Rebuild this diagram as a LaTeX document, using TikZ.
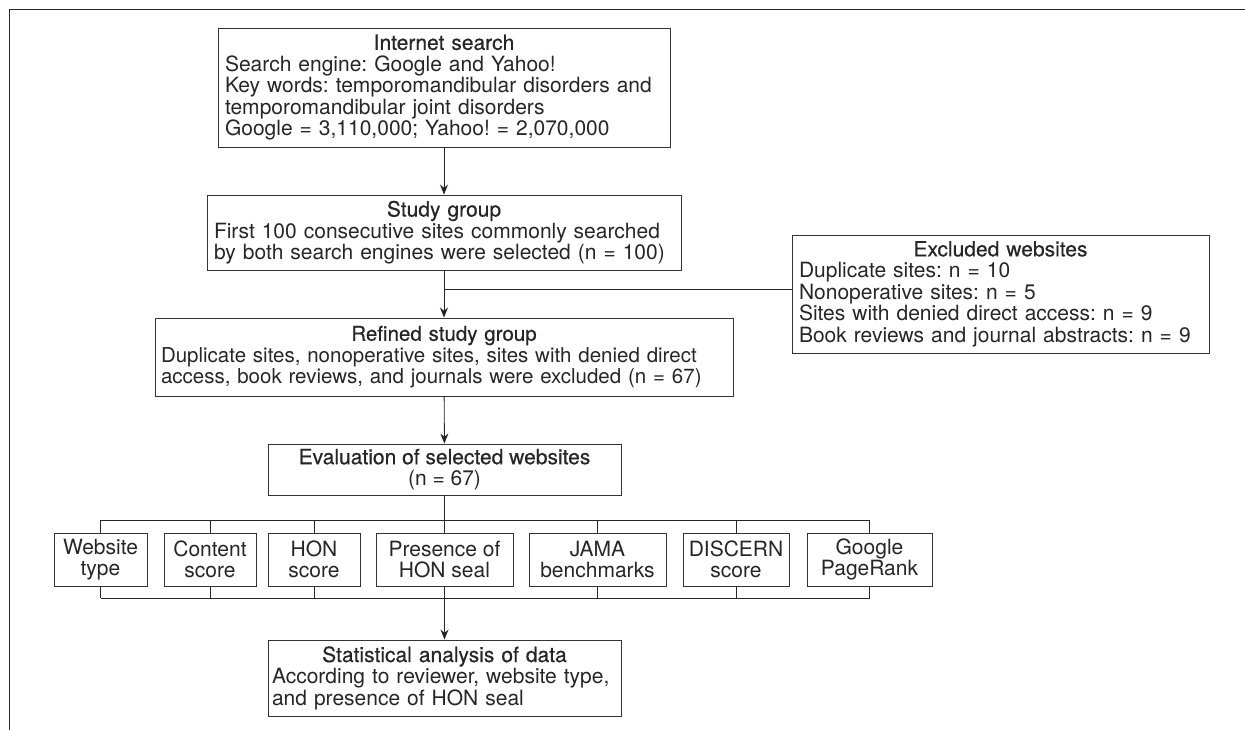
\documentclass[tikz,border=0pt]{standalone}
\usepackage{fontspec}
\setmainfont{TeX Gyre Heros}
\newfontfamily\titlefont[FakeBold=0.5]{TeX Gyre Heros}
\usetikzlibrary{arrows.meta}

\newcommand{\boxtitle}[1]{\makebox[\hsize]{\titlefont #1}\\}

\begin{document}
\begin{tikzpicture}[x=1pt,y=-1pt,
  box/.style={draw=black!80,line width=0.9pt,inner ysep=0pt,inner xsep=7pt,
    font=\fontsize{21}{21.5}\selectfont\frenchspacing,text=black!85,
    execute at begin node=\setlength{\parindent}{0pt}},
  textbox/.style={box,align=left,text width=#1},
  smallbox/.style={box,align=center,inner xsep=0pt,minimum height=53pt},
  conn/.style={draw=black!85,line width=0.9pt},
  arr/.style={conn,-{Stealth[length=10pt,width=8pt]}}]

\useasboundingbox (0,0) rectangle (1245,730);

% frame
\draw[black!85,line width=1pt] (1245,10) -- (9,10) -- (9,730);

\node[textbox=438pt,minimum height=119pt] (search) at (444,87.5)
  {\boxtitle{Internet search}Search engine: Google and Yahoo!\\
   Key words: temporomandibular disorders and\\
   temporomandibular joint disorders\\
   Google = 3,110,000; Yahoo! = 2,070,000};

\node[textbox=460pt,minimum height=75pt] (study) at (444,232.5)
  {\boxtitle{Study group}First 100 consecutive sites commonly searched\\
   by both search engines were selected (n = 100)};

\node[textbox=566pt,inner xsep=6pt,minimum height=78pt,
  font=\fontsize{20.5}{21.5}\selectfont\frenchspacing] (refined) at (444,357)
  {\boxtitle{Refined study group}Duplicate sites, nonoperative sites, sites with denied direct\\
   access, book reviews, and journals were excluded (n = 67)};

\node[textbox=403pt,minimum height=118pt] (excl) at (1000.5,294)
  {\boxtitle{Excluded websites}Duplicate sites: n = 10\\
   Nonoperative sites: n = 5\\
   Sites with denied direct access: n = 9\\
   Book reviews and journal abstracts: n = 9};

\node[box,align=center,minimum width=353pt,minimum height=51pt] (eval) at (444.5,469.5)
  {{\titlefont Evaluation of selected websites}\\(n = 67)};

% criteria
\node[smallbox,minimum width=93pt]  (website)  at (100.5,559.5) {Website\\type};
\node[smallbox,minimum width=92pt]  (content)  at (210,559.5)   {Content\\score};
\node[smallbox,minimum width=92pt]  (hon)      at (314,559.5)   {HON\\score};
\node[smallbox,minimum width=137pt] (presence) at (444.5,559.5) {Presence of\\HON seal};
\node[smallbox,minimum width=137pt] (jama)     at (597.5,559.5) {JAMA\\benchmarks};
\node[smallbox,minimum width=106pt] (discern)  at (736,559.5)   {DISCERN\\score};
\node[smallbox,minimum width=125pt] (google)   at (869.5,559.5) {Google\\PageRank};

\node[textbox=345pt,inner xsep=4pt,minimum height=76pt] (stats) at (444.5,678)
  {\boxtitle{Statistical analysis of data}According to reviewer, website type,\\
   and presence of HON seal};

\coordinate (branch) at (444,289);
\coordinate (topbar) at (0,520);
\coordinate (botbar) at (0,598);

\draw[arr] (search) -- (study);
\draw[arr] (study) -- (refined);
\draw[conn] (branch) -- (branch -| excl.west);
\draw[arr] (refined) -- (eval);
\draw[conn] (eval) -- (eval |- topbar);

% brackets
\draw[conn] (website.north |- topbar) -- (google.north |- topbar);
\draw[conn] (website.south |- botbar) -- (google.south |- botbar);
\foreach \c in {website,content,hon,presence,jama,discern,google} {
  \draw[conn] (\c.north) -- (\c.north |- topbar);
  \draw[conn] (\c.south) -- (\c.south |- botbar);
}

\draw[arr] (presence) -- (stats);

\end{tikzpicture}
\end{document}
